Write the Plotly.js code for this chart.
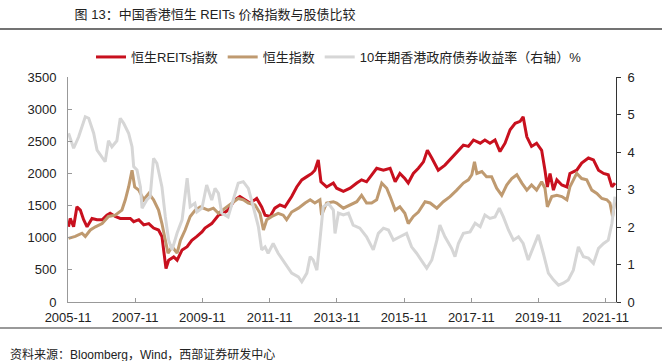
<!DOCTYPE html>
<html>
<head>
<meta charset="utf-8">
<script src="https://cdn.plot.ly/plotly-3.0.1.min.js"></script>
<style>html,body{margin:0;padding:0;background:#fff;}#chart{width:662px;height:361px;}</style>
</head>
<body>
<div id="chart"></div>
<script>
// ---- Data (time as decimal years) ----
const reitsTime = [2005.85,2005.90,2006.00,2006.10,2006.20,2006.30,2006.40,2006.55,2006.70,2006.85,2006.99,2007.09,2007.24,2007.39,2007.54,2007.69,2007.79,2007.94,2008.09,2008.24,2008.38,2008.53,2008.63,2008.68,2008.75,2008.83,2008.98,2009.08,2009.23,2009.38,2009.52,2009.67,2009.82,2009.91,2010.11,2010.31,2010.46,2010.60,2010.80,2010.95,2011.10,2011.25,2011.45,2011.60,2011.70,2011.85,2011.99,2012.14,2012.29,2012.49,2012.64,2012.79,2012.94,2013.09,2013.18,2013.28,2013.36,2013.53,2013.73,2013.83,2014.03,2014.23,2014.43,2014.57,2014.72,2014.87,2015.02,2015.22,2015.42,2015.57,2015.71,2015.86,2015.96,2016.11,2016.26,2016.41,2016.53,2016.66,2016.85,2017.05,2017.25,2017.45,2017.60,2017.75,2017.90,2018.10,2018.24,2018.39,2018.54,2018.69,2018.84,2018.99,2019.14,2019.29,2019.38,2019.49,2019.63,2019.78,2019.93,2020.03,2020.10,2020.18,2020.28,2020.38,2020.53,2020.68,2020.77,2020.97,2021.12,2021.32,2021.47,2021.62,2021.77,2021.91,2022.02,2022.11];
const reitsValues = [1170,1300,1170,1480,1430,1280,1170,1300,1280,1280,1350,1380,1330,1300,1300,1300,1250,1280,1200,1220,1150,1120,1020,810,520,650,700,650,810,860,960,1020,1090,1150,1220,1350,1380,1430,1590,1640,1590,1540,1610,1480,1350,1330,1460,1510,1480,1640,1790,1900,1950,2000,2050,2210,1870,1790,1850,1770,1720,1770,1850,1900,1870,1980,2080,2050,2080,1870,2000,1920,1850,2000,2080,2180,2360,2240,2050,2130,2240,2360,2440,2420,2520,2470,2520,2470,2520,2340,2470,2680,2780,2810,2880,2570,2420,2470,2360,2050,1790,2000,1740,1900,1820,1790,2000,2050,2160,2240,2210,2050,2000,1980,1790,1850];

const hsiTime = [2005.85,2006.05,2006.25,2006.35,2006.50,2006.65,2006.85,2007.04,2007.24,2007.44,2007.54,2007.64,2007.74,2007.82,2007.94,2008.09,2008.24,2008.38,2008.53,2008.63,2008.73,2008.81,2008.93,2009.08,2009.18,2009.32,2009.47,2009.62,2009.77,2010.01,2010.16,2010.31,2010.51,2010.71,2010.90,2011.05,2011.20,2011.40,2011.55,2011.65,2011.75,2011.90,2012.09,2012.24,2012.34,2012.49,2012.69,2012.89,2013.04,2013.18,2013.33,2013.38,2013.53,2013.73,2013.83,2014.03,2014.23,2014.43,2014.57,2014.72,2014.87,2015.02,2015.17,2015.32,2015.42,2015.57,2015.71,2015.86,2015.96,2016.11,2016.26,2016.46,2016.61,2016.81,2017.00,2017.20,2017.40,2017.60,2017.75,2017.85,2017.93,2018.00,2018.15,2018.29,2018.44,2018.59,2018.74,2018.89,2019.04,2019.19,2019.34,2019.49,2019.63,2019.78,2019.93,2020.03,2020.10,2020.23,2020.38,2020.53,2020.68,2020.77,2020.97,2021.12,2021.27,2021.42,2021.57,2021.72,2021.87,2021.96,2022.04,2022.11];
const hsiValues = [990,1020,1070,1020,1120,1170,1220,1330,1350,1430,1590,1790,2050,1790,1740,1590,1690,1590,1430,1220,960,760,860,760,960,1120,1330,1430,1480,1430,1460,1380,1460,1540,1610,1590,1540,1510,1380,1120,1280,1330,1380,1350,1280,1400,1460,1540,1590,1540,1590,1350,1540,1560,1540,1460,1510,1560,1660,1540,1540,1590,1850,1770,1640,1430,1480,1380,1220,1330,1400,1560,1540,1460,1560,1640,1740,1850,1900,1980,2180,2000,2030,1950,1950,1770,1660,1820,1920,1980,1850,1740,1820,1740,1870,1770,1480,1640,1660,1640,1590,1790,2000,1920,1900,1740,1690,1610,1590,1540,1330,1590];

const yieldTime = [2005.85,2006.00,2006.15,2006.35,2006.45,2006.60,2006.70,2006.94,2007.04,2007.14,2007.29,2007.39,2007.49,2007.64,2007.74,2007.79,2007.89,2007.99,2008.04,2008.18,2008.28,2008.38,2008.48,2008.63,2008.73,2008.83,2008.93,2009.08,2009.23,2009.38,2009.47,2009.61,2009.67,2009.82,2009.96,2010.11,2010.21,2010.31,2010.41,2010.60,2010.75,2010.90,2011.05,2011.20,2011.35,2011.50,2011.60,2011.70,2011.79,2011.94,2012.09,2012.29,2012.49,2012.69,2012.79,2012.94,2013.04,2013.13,2013.24,2013.33,2013.43,2013.58,2013.73,2013.78,2013.88,2014.03,2014.18,2014.32,2014.52,2014.72,2014.92,2015.07,2015.22,2015.37,2015.52,2015.71,2015.91,2016.06,2016.21,2016.41,2016.51,2016.66,2016.81,2016.90,2017.05,2017.25,2017.35,2017.45,2017.60,2017.80,2017.95,2018.10,2018.24,2018.39,2018.54,2018.67,2018.79,2018.94,2019.09,2019.24,2019.38,2019.53,2019.68,2019.83,2019.98,2020.13,2020.28,2020.43,2020.57,2020.72,2020.87,2021.02,2021.17,2021.32,2021.47,2021.62,2021.77,2021.91,2022.02,2022.11];
const yieldValues = [4.5,4.1,4.4,4.94,4.9,4.5,4.05,3.74,4.3,4.14,4.3,4.9,4.77,4.5,4.14,3.61,3.52,3.07,2.5,2.72,2.81,3.83,3.7,3.07,2.27,1.65,1.39,1.84,2.19,3.3,2.54,2.63,2.4,2.5,3.12,2.72,3.03,2.9,2.37,2.27,2.72,3.17,3.21,3.03,2.54,2.01,1.39,1.47,1.3,1.56,1.3,1.03,0.77,0.67,0.54,0.77,1.21,1.12,0.85,1.65,2.54,2.63,2.45,1.83,2.37,2.32,2.37,2.05,1.97,1.74,1.39,1.83,1.97,1.92,1.65,1.74,1.83,1.47,1.3,1.03,0.9,1.12,1.65,2.05,1.74,1.43,1.21,1.56,1.83,1.87,2.1,2.01,2.32,2.23,2.27,2.5,2.27,1.92,1.65,1.74,1.56,1.12,1.47,1.79,1.3,0.77,0.59,0.45,0.5,0.59,0.85,1.47,1.21,1.17,1.03,1.43,1.56,1.65,2.1,2.81];

const seriesNames = ['恒生REITs指数', '恒生指数', '10年期香港政府债券收益率（右轴）%'];
const xTickLabels = ['2005-11','2007-11','2009-11','2011-11','2013-11','2015-11','2017-11','2019-11','2021-11'];
const titleText = '图 13：中国香港恒生 REITs 价格指数与股债比较';
const sourceText = '资料来源：Bloomberg，Wind，西部证券研发中心';

// decimal year -> ISO date string
function toDate(t) {
  const y = Math.floor(t);
  const a = Date.UTC(y, 0, 1), b = Date.UTC(y + 1, 0, 1);
  return new Date(a + (t - y) * (b - a)).toISOString().slice(0, 10);
}

const FONT = 'Liberation Sans, Arial, "Noto Sans CJK SC", sans-serif';

const traces = [
  {x: reitsTime.map(toDate), y: reitsValues, name: seriesNames[0], type: 'scatter', mode: 'lines',
   line: {color: '#C8101E', width: 3}, yaxis: 'y'},
  {x: hsiTime.map(toDate), y: hsiValues, name: seriesNames[1], type: 'scatter', mode: 'lines',
   line: {color: '#BF9A70', width: 3}, yaxis: 'y'},
  {x: yieldTime.map(toDate), y: yieldValues, name: seriesNames[2], type: 'scatter', mode: 'lines',
   line: {color: '#D6D6D6', width: 3}, yaxis: 'y2'}
];

const layout = {
  width: 662, height: 361,
  margin: {l: 68, r: 46, t: 77, b: 59, pad: 0},
  paper_bgcolor: '#fff', plot_bgcolor: '#fff',
  font: {family: FONT, size: 13, color: '#222'},
  showlegend: true,
  title: {text: titleText, x: 0.012, xanchor: 'left', xref: 'paper', y: 1 - 14/361, yanchor: 'middle',
          font: {family: FONT, size: 13, color: '#222'}},
  xaxis: {type: 'date', range: ['2005-11-01', '2022-02-21'],
          tickmode: 'array', tickvals: xTickLabels.map(s => s + '-01'), ticktext: xTickLabels,
          ticks: 'inside', ticklen: 4, tickcolor: '#999', showline: true, linecolor: '#999', linewidth: 1,
          showgrid: false, zeroline: false, tickfont: {size: 13, color: '#222'}, ticklabelstandoff: 3},
  yaxis: {range: [0, 3500], tick0: 0, dtick: 500, ticks: 'inside', ticklen: 4, tickcolor: '#999',
          showline: true, linecolor: '#999', linewidth: 1, showgrid: false, zeroline: false,
          tickfont: {size: 13, color: '#222'}, ticklabelstandoff: 8},
  yaxis2: {range: [0, 6], tick0: 0, dtick: 1, overlaying: 'y', side: 'right', ticks: 'outside', ticklen: 4,
           tickcolor: '#333', showline: true, linecolor: '#333', linewidth: 1, showgrid: false, zeroline: false,
           tickfont: {size: 13, color: '#222'}, ticklabelstandoff: 4},
  legend: {orientation: 'h', x: 0.042, xanchor: 'left', y: (302 - 57) / 225, yanchor: 'middle',
           font: {size: 13, color: '#222'}, bgcolor: 'rgba(0,0,0,0)', traceorder: 'normal'},
  shapes: [
    {type: 'line', xref: 'paper', yref: 'paper', x0: -68/548, x1: 594/548, y0: (302 - 29) / 225, y1: (302 - 29) / 225,
     line: {color: '#444', width: 1.5}},
    {type: 'line', xref: 'paper', yref: 'paper', x0: -68/548, x1: 594/548, y0: (302 - 328) / 225, y1: (302 - 328) / 225,
     line: {color: '#999', width: 2}}
  ],
  annotations: [
    {text: sourceText, xref: 'paper', yref: 'paper', x: (8 - 68) / 548, xanchor: 'left',
     y: (302 - 354) / 225, yanchor: 'middle', showarrow: false, font: {size: 12, color: '#222'}}
  ]
};

Plotly.newPlot('chart', traces, layout, {staticPlot: true, displayModeBar: false});
</script>
</body>
</html>
